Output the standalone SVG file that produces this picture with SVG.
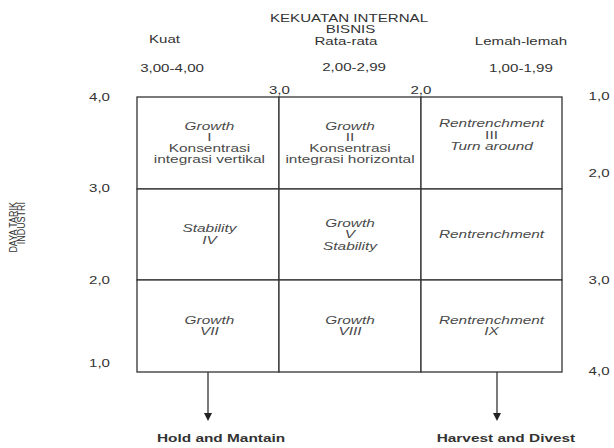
<svg xmlns="http://www.w3.org/2000/svg" width="614" height="448" viewBox="0 0 614 448">
<style>
  text { font-family: "Liberation Sans", Arial, sans-serif; }
  .hd { font-size: 10.8px; fill: #333; text-anchor: middle; }
  .ax { font-size: 10.8px; fill: #333; text-anchor: middle; }
  .ct { font-size: 11px; fill: #4a4a4a; text-anchor: middle; }
  .it { font-style: italic; }
  .lb { font-size: 11px; font-weight: bold; fill: #333; text-anchor: middle; }
  .vt { font-size: 11.5px; fill: #333; text-anchor: end; }
  .cell { fill: #fff; stroke: #333; stroke-width: 1.3; }
  .conn { stroke: #333; stroke-width: 1.3; fill: none; }
  .head { fill: #222; }
</style>
<rect x="0" y="0" width="614" height="448" fill="#fff"/>

<g id="header">
  <g transform="scale(1.4,1)">
    <text class="hd" x="249.3" y="22">KEKUATAN INTERNAL</text>
    <text class="hd" x="250.4" y="33">BISNIS</text>
    <text class="hd" x="117.5" y="43">Kuat</text>
    <text class="hd" x="247.1" y="45">Rata-rata</text>
    <text class="hd" x="372.1" y="45">Lemah-lemah</text>
    <text class="hd" x="122.9" y="72">3,00-4,00</text>
    <text class="hd" x="252.9" y="71">2,00-2,99</text>
    <text class="hd" x="372.1" y="72">1,00-1,99</text>
    <text class="ax" x="199.6" y="94">3,0</text>
    <text class="ax" x="300.7" y="94">2,0</text>
  </g>
</g>

<g id="left-axis">
  <g transform="scale(1.4,1)">
    <text class="ax" x="71.1" y="101">4,0</text>
    <text class="ax" x="71.1" y="192">3,0</text>
    <text class="ax" x="71.1" y="284">2,0</text>
    <text class="ax" x="71.1" y="367">1,0</text>
  </g>
  <text class="vt" transform="translate(16.5,202) rotate(-90) scale(0.78,1)">DAYA TARIK</text>
  <text class="vt" transform="translate(24.5,202) rotate(-90) scale(0.78,1)">INDUSTRI</text>
</g>

<g id="right-axis">
  <g transform="scale(1.4,1)">
    <text class="ax" x="427.9" y="100">1,0</text>
    <text class="ax" x="427.9" y="177">2,0</text>
    <text class="ax" x="427.9" y="284">3,0</text>
    <text class="ax" x="427.9" y="375">4,0</text>
  </g>
</g>

<g id="cell-1">
  <rect class="cell" x="137" y="97" width="142" height="92"/>
  <g transform="scale(1.4,1)">
    <text class="ct it" x="149.6" y="130">Growth</text>
    <text class="ct" x="149.6" y="141">I</text>
    <text class="ct" x="149.6" y="152">Konsentrasi</text>
    <text class="ct" x="149.6" y="163">integrasi vertikal</text>
  </g>
</g>
<g id="cell-2">
  <rect class="cell" x="279" y="97" width="142" height="92"/>
  <g transform="scale(1.4,1)">
    <text class="ct it" x="250" y="130">Growth</text>
    <text class="ct" x="250" y="141">II</text>
    <text class="ct" x="250" y="152">Konsentrasi</text>
    <text class="ct" x="250" y="163">integrasi horizontal</text>
  </g>
</g>
<g id="cell-3">
  <rect class="cell" x="421" y="97" width="141" height="92"/>
  <g transform="scale(1.4,1)">
    <text class="ct it" x="351.1" y="127">Rentrenchment</text>
    <text class="ct" x="351.1" y="139">III</text>
    <text class="ct it" x="351.1" y="150">Turn around</text>
  </g>
</g>

<g id="cell-4">
  <rect class="cell" x="137" y="189" width="142" height="91"/>
  <g transform="scale(1.4,1)">
    <text class="ct it" x="149.6" y="232.5">Stability</text>
    <text class="ct it" x="149.6" y="244">IV</text>
  </g>
</g>
<g id="cell-5">
  <rect class="cell" x="279" y="189" width="142" height="91"/>
  <g transform="scale(1.4,1)">
    <text class="ct it" x="250" y="227">Growth</text>
    <text class="ct it" x="250" y="238.5">V</text>
    <text class="ct it" x="250" y="250">Stability</text>
  </g>
</g>
<g id="cell-6">
  <rect class="cell" x="421" y="189" width="141" height="91"/>
  <g transform="scale(1.4,1)">
    <text class="ct it" x="351.1" y="238">Rentrenchment</text>
  </g>
</g>

<g id="cell-7">
  <rect class="cell" x="137" y="280" width="142" height="92"/>
  <g transform="scale(1.4,1)">
    <text class="ct it" x="149.6" y="324">Growth</text>
    <text class="ct it" x="149.6" y="335">VII</text>
  </g>
</g>
<g id="cell-8">
  <rect class="cell" x="279" y="280" width="142" height="92"/>
  <g transform="scale(1.4,1)">
    <text class="ct it" x="250" y="324">Growth</text>
    <text class="ct it" x="250" y="335">VIII</text>
  </g>
</g>
<g id="cell-9">
  <rect class="cell" x="421" y="280" width="141" height="92"/>
  <g transform="scale(1.4,1)">
    <text class="ct it" x="351.1" y="324">Rentrenchment</text>
    <text class="ct it" x="351.1" y="335">IX</text>
  </g>
</g>

<g id="connectors">
  <line class="conn" x1="208" y1="372" x2="208" y2="414"/>
  <polygon class="head" points="204,413 212,413 208,421"/>
  <line class="conn" x1="497" y1="372" x2="497" y2="414"/>
  <polygon class="head" points="493,413 501,413 497,421"/>
</g>

<g id="hold-and-mantain">
  <text class="lb" transform="scale(1.4,1)" x="157.9" y="442">Hold and Mantain</text>
</g>
<g id="harvest-and-divest">
  <text class="lb" transform="scale(1.4,1)" x="361.4" y="442">Harvest and Divest</text>
</g>
</svg>
